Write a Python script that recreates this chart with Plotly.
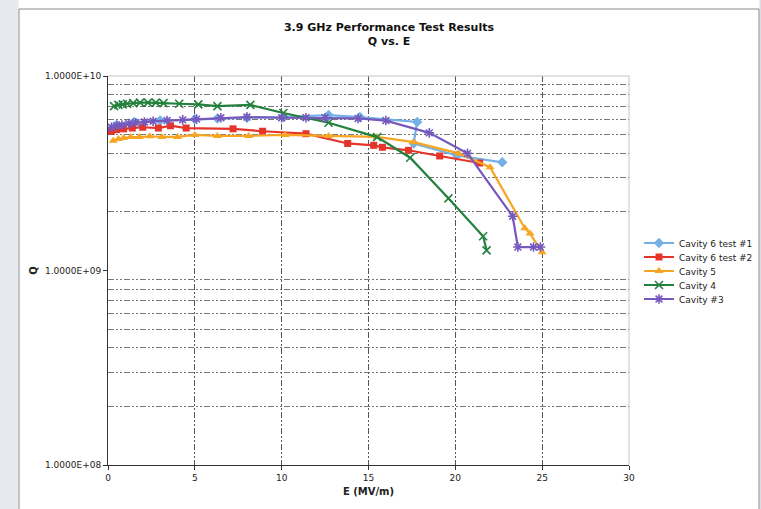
import plotly.graph_objects as go

# ---------------- data ----------------
c61_E = [0.5, 1.5, 3.0, 5.0, 6.3, 8.0, 10.1, 12.7, 14.5, 17.8, 17.6, 20.1, 22.7]
c61_Q = [5.6e9, 5.8e9, 5.9e9, 6.0e9, 6.05e9, 6.1e9, 6.15e9, 6.3e9, 6.15e9, 5.8e9, 4.5e9, 3.9e9, 3.6e9]

c62_E = [0.2, 0.5, 0.9, 1.4, 2.0, 2.9, 3.6, 4.5, 7.2, 8.9, 11.4, 13.8, 15.3, 15.8, 17.3, 19.1, 21.4]
c62_Q = [5.2e9, 5.3e9, 5.35e9, 5.4e9, 5.45e9, 5.4e9, 5.55e9, 5.4e9, 5.35e9, 5.2e9, 5.05e9,
         4.5e9, 4.4e9, 4.3e9, 4.15e9, 3.88e9, 3.57e9]

c5_E = [0.3, 0.6, 0.9, 1.3, 1.8, 2.4, 3.1, 4.0, 5.0, 6.3, 8.1, 10.2, 12.7, 15.5, 17.6, 20.2,
        22.0, 24.0, 24.3, 25.0]
c5_Q = [4.65e9, 4.75e9, 4.8e9, 4.85e9, 4.85e9, 4.9e9, 4.86e9, 4.86e9, 4.98e9, 4.92e9, 4.92e9,
        4.98e9, 4.92e9, 4.86e9, 4.57e9, 4.0e9, 3.4e9, 1.65e9, 1.55e9, 1.24e9]

c4_E = [0.35, 0.6, 0.85, 1.1, 1.45, 1.85, 2.3, 2.75, 3.2, 4.1, 5.2, 6.3, 8.2, 10.1, 12.7, 15.5,
        17.4, 19.6, 21.6, 21.8]
c4_Q = [7.0e9, 7.1e9, 7.15e9, 7.2e9, 7.25e9, 7.3e9, 7.3e9, 7.3e9, 7.25e9, 7.2e9, 7.15e9, 7.0e9,
        7.1e9, 6.45e9, 5.75e9, 4.85e9, 3.8e9, 2.35e9, 1.5e9, 1.27e9]

c3_E = [0.2, 0.5, 0.8, 1.2, 1.6, 2.1, 2.6, 3.4, 4.3, 5.1, 6.5, 8.0, 10.0, 11.4, 12.5, 14.4, 16.0,
        18.5, 20.7, 23.3, 23.6, 24.5, 24.9]
c3_Q = [5.45e9, 5.55e9, 5.6e9, 5.7e9, 5.75e9, 5.8e9, 5.85e9, 5.9e9, 5.95e9, 6.0e9, 6.1e9, 6.15e9,
        6.1e9, 6.1e9, 6.1e9, 6.05e9, 5.9e9, 5.1e9, 4.0e9, 1.9e9, 1.32e9, 1.32e9, 1.32e9]

series_names = ["Cavity 6 test #1", "Cavity 6 test #2", "Cavity 5", "Cavity 4", "Cavity #3"]

y_tickvals = [1e8, 1e9, 1e10]
y_ticktext = ["1.0000E+08", "1.0000E+09", "1.0000E+10"]
x_tickvals = [0, 5, 10, 15, 20, 25, 30]
y_minor = [m * 10 ** e for e in (8, 9) for m in range(2, 10)]

# ---------------- styling ----------------
W, H = 761, 509
L, R, T, B = 108, 629, 76, 465  # plot area in pixels


def px(xp):
    return (xp - L) / (R - L)


def py(yp):
    return 1 - (yp - T) / (B - T)


styles = [
    dict(color="#72b0e6", symbol="diamond", size=8, lw=0),
    dict(color="#e5352b", symbol="square", size=7, lw=0),
    dict(color="#f6a623", symbol="triangle-up", size=8, lw=0),
    dict(color="#23803d", symbol="x-thin-open", size=8, lw=1.6),
    dict(color="#7659bd", symbol="asterisk-open", size=8, lw=1.6),
]
data = [(c61_E, c61_Q), (c62_E, c62_Q), (c5_E, c5_Q), (c4_E, c4_Q), (c3_E, c3_Q)]
legend_ids = ["legend", "legend2", "legend3", "legend4", "legend5"]
legend_rows = [243, 257, 271, 285, 299]  # pixel centre of each legend row

font = "Tahoma, Verdana, DejaVu Sans, sans-serif"
griddash = "6px,2px,2px,2px,2px,2px"

fig = go.Figure()
for (xs, ys), name, st, lid in zip(data, series_names, styles, legend_ids):
    marker = dict(symbol=st["symbol"], size=st["size"], color=st["color"])
    if st["lw"]:
        marker["line"] = dict(width=st["lw"], color=st["color"])
    fig.add_trace(go.Scatter(x=xs, y=ys, name=name, mode="lines+markers", legend=lid,
                             line=dict(color=st["color"], width=2.2), marker=marker))

legends = {}
for lid, row in zip(legend_ids, legend_rows):
    legends[lid] = dict(x=px(639), y=py(row), xanchor="left", yanchor="middle",
                        font=dict(family=font, size=9, color="#222"),
                        bgcolor="rgba(0,0,0,0)", itemwidth=30)

fig.update_layout(
    width=W, height=H,
    margin=dict(l=L, r=W - R, t=T, b=H - B, autoexpand=False),
    paper_bgcolor="white", plot_bgcolor="white",
    font=dict(family=font, size=9, color="#222"),
    title=dict(text="<b>3.9 GHz Performance Test Results<br>Q vs. E</b>",
               x=389 / W, xanchor="center", xref="container",
               y=1 - 31 / H, yanchor="top", yref="container",
               font=dict(family=font, size=11, color="#111")),
    showlegend=True,
    **legends,
)

fig.update_xaxes(range=[0, 30], tickvals=x_tickvals, ticks="outside", ticklen=4,
                 tickcolor="#333", showline=True, linecolor="#333", linewidth=1,
                 mirror=False, showgrid=True, gridcolor="#555", griddash=griddash,
                 gridwidth=1, zeroline=False,
                 title=dict(text="<b>E (MV/m)</b>", standoff=6, font=dict(size=10)))
fig.update_yaxes(type="log", range=[8, 10], tickvals=y_tickvals, ticktext=y_ticktext,
                 ticks="outside", ticklen=4, tickcolor="#333", showline=True,
                 linecolor="#333", linewidth=1, showgrid=False, zeroline=False,
                 minor=dict(tickvals=y_minor, showgrid=True, gridcolor="#777",
                            griddash=griddash, gridwidth=1, ticks=""),
                 title=dict(text="<b>Q</b>", standoff=5, font=dict(size=10)))

# plot-area top/right border and the 1e9 gridline
fig.add_shape(type="line", xref="paper", yref="paper", x0=0, x1=1, y0=1, y1=1,
              line=dict(color="#c4c4c4", width=1))
fig.add_shape(type="line", xref="paper", yref="paper", x0=1, x1=1, y0=0, y1=1,
              line=dict(color="#c4c4c4", width=1))
fig.add_shape(type="line", xref="paper", yref="y", x0=0, x1=1, y0=9, y1=9,
              line=dict(color="#666", width=1, dash=griddash), layer="below")

# page strip and chart frame
fig.add_shape(type="rect", xref="paper", yref="paper", x0=px(-5), x1=px(18.5),
              y0=py(-5), y1=py(H + 5), fillcolor="#e8e8f0", line=dict(width=0), layer="above")
fig.add_shape(type="rect", xref="paper", yref="paper", x0=px(759.5), x1=px(W + 5),
              y0=py(-5), y1=py(H + 5), fillcolor="#dcdce2", line=dict(width=0), layer="above")
fig.add_shape(type="rect", xref="paper", yref="paper", x0=px(19), x1=px(759),
              y0=py(9), y1=py(H + 10), fillcolor="rgba(0,0,0,0)",
              line=dict(color="#8c8c8c", width=1), layer="above")

fig.write_html("out.html", config={"displayModeBar": False},
               post_script="document.body.style.margin='0px';"
                           "document.body.style.overflow='hidden';")
